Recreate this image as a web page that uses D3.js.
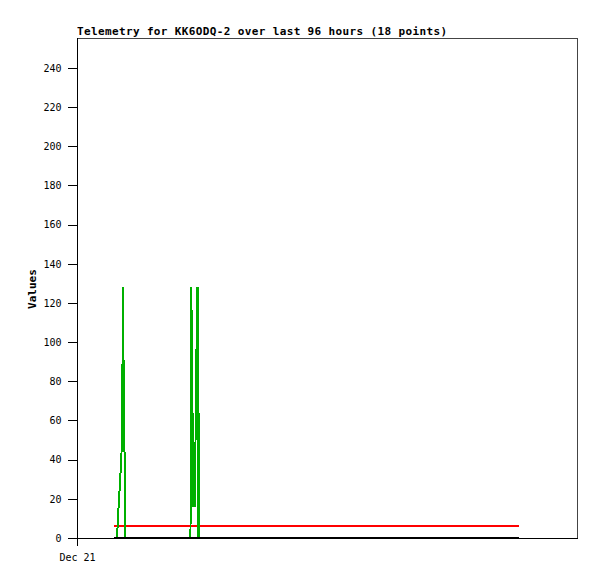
<!DOCTYPE html>
<html>
<head>
<meta charset="utf-8">
<script src="https://cdn.jsdelivr.net/npm/d3@7/dist/d3.min.js"></script>
<style>
  html, body { margin: 0; padding: 0; background: #fff; }
  svg { display: block; }
</style>
</head>
<body>
<svg id="chart" width="597" height="579"></svg>
<script>
// ---- data (minutes after Dec 21 00:00) ----
const titleText = "Telemetry for KK6ODQ-2 over last 96 hours (18 points)";
const yLabel = "Values";
const yTicks = [0, 20, 40, 60, 80, 100, 120, 140, 160, 180, 200, 220, 240];
const xTickLabels = ["Dec 21"];

// green analog channel trace
const greenMinutes = [88.8, 96, 97.2, 99.6, 102, 104.4, 106.8, 109.2, 111.1, 112.3, 113.5, 115.2,
                      272.4, 273.6, 276, 277.2, 278.4, 279.6, 282, 283.2, 284.4, 285.6, 288, 289.2, 290.4, 292.1, 292.8, 1060.8];
const greenValues  = [0, 0, 5, 15, 24, 33, 43, 88, 128, 44, 64, 0,
                      0, 128, 106, 21, 64, 16, 48, 16, 48, 81, 112, 128, 0, 64, 0, 0];

// constant channels
const redMinutes = [88.8, 1060.8];
const redValues = [6, 6];
const blackMinutes = [88.8, 1060.8];
const blackValues = [0, 0];

(function () {
// ---- layout ----
const svg = d3.select("#chart");
const mL = 77, mR = 577, mT = 38, mB = 538;
const t0 = new Date(2020, 11, 21, 0, 0);
const t1 = new Date(2020, 11, 21, 20, 0);
const toDate = m => new Date(t0.getTime() + m * 60000);

const x = d3.scaleTime().domain([t0, t1]).range([mL, mR]);
const y = d3.scaleLinear().domain([0, 255.3]).range([mB, mT]);

const mono = "'DejaVu Sans Mono', 'Liberation Mono', monospace";

// frame (top/right grey)
svg.append("path")
  .attr("d", `M${mL},${mT + 0.5}H${mR + 0.5}V${mB}`)
  .attr("fill", "none").attr("stroke", "#444").attr("stroke-width", 1)
  .attr("shape-rendering", "crispEdges");

// y axis
const yAxis = d3.axisLeft(y).tickValues(yTicks).tickSize(10).tickPadding(6);
const gy = svg.append("g").attr("transform", `translate(${mL + 0.5},0)`).call(yAxis);
gy.select(".domain").remove();
gy.selectAll("line").attr("stroke", "#000").attr("shape-rendering", "crispEdges");
gy.selectAll("text").attr("font-family", mono).attr("font-size", 10).attr("fill", "#000");
svg.append("line").attr("x1", mL + 0.5).attr("x2", mL + 0.5).attr("y1", mT).attr("y2", mB)
  .attr("stroke", "#000").attr("shape-rendering", "crispEdges");

// x axis
const xAxis = d3.axisBottom(x).ticks(d3.timeDay.every(1)).tickSize(7).tickPadding(8)
  .tickFormat((d, i) => xTickLabels[i] || d3.timeFormat("%b %d")(d));
const gx = svg.append("g").attr("transform", `translate(0,${mB + 0.5})`).call(xAxis);
gx.select(".domain").remove();
gx.selectAll("line").attr("stroke", "#000").attr("shape-rendering", "crispEdges");
gx.selectAll("text").attr("font-family", mono).attr("font-size", 10).attr("fill", "#000");
svg.append("line").attr("x1", mL).attr("x2", mR + 1).attr("y1", mB + 0.5).attr("y2", mB + 0.5)
  .attr("stroke", "#000").attr("shape-rendering", "crispEdges");

// series
const line = d3.line().x(d => x(toDate(d[0]))).y(d => y(d[1]));
const draw = (ms, vs, color, w) => svg.append("path")
  .datum(ms.map((m, i) => [m, vs[i]]))
  .attr("d", line).attr("fill", "none").attr("stroke", color).attr("stroke-width", w)
  .attr("shape-rendering", "crispEdges");

draw(redMinutes, redValues, "#ff0000", 2);
draw(greenMinutes, greenValues, "#00b000", 2);
draw(blackMinutes, blackValues, "#000000", 2);

// title
svg.append("text").attr("x", mL).attr("y", 34.5)
  .attr("font-family", mono).attr("font-size", 11).attr("font-weight", "bold")
  .attr("textLength", 370).attr("lengthAdjust", "spacing")
  .text(titleText);

// y label
svg.append("text").attr("transform", "translate(36,289) rotate(-90)")
  .attr("text-anchor", "middle")
  .attr("font-family", mono).attr("font-size", 11).attr("font-weight", "bold")
  .text(yLabel);
})();
</script>
</body>
</html>
